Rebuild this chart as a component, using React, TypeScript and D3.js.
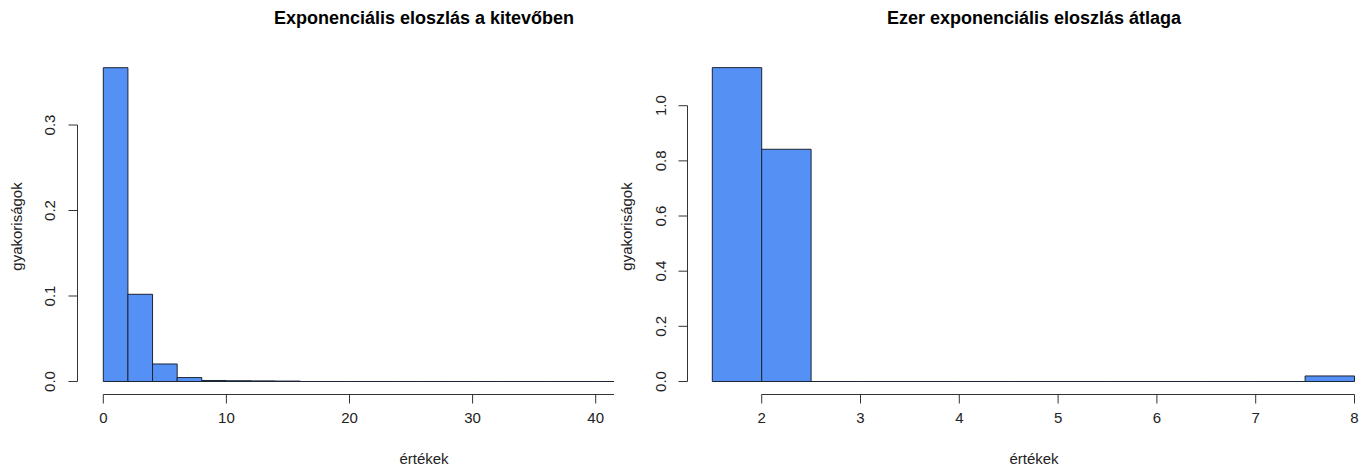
import React from "react";
import * as d3 from "d3";

// ---- Data ----
const leftTitle = "Exponenciális eloszlás a kitevőben";
const rightTitle = "Ezer exponenciális eloszlás átlaga";
const xLabel = "értékek";
const yLabel = "gyakoriságok";

// left histogram: breaks (width 2) and densities
const leftBreaks = [0, 2, 4, 6, 8, 10, 12, 14, 16, 18, 20, 22, 24, 26, 28, 30, 32, 34, 36, 38, 40, 42, 44, 46, 48, 50, 52];
const leftDensity = [0.367, 0.102, 0.0205, 0.0046, 0.0012, 0.0009, 0.0007, 0.0005, 0, 0, 0, 0, 0, 0, 0, 0, 0, 0, 0, 0, 0, 0, 0, 0, 0, 0.0001];
const leftXTicks = [0, 10, 20, 30, 40, 50];
const leftYTicks = [0, 0.1, 0.2, 0.3];

// right histogram: breaks (width 0.5) and densities
const rightBreaks = [1.5, 2, 2.5, 3, 3.5, 4, 4.5, 5, 5.5, 6, 6.5, 7, 7.5, 8];
const rightDensity = [1.138, 0.842, 0, 0, 0, 0, 0, 0, 0, 0, 0, 0, 0.02];
const rightXTicks = [2, 3, 4, 5, 6, 7, 8];
const rightYTicks = [0, 0.2, 0.4, 0.6, 0.8, 1.0];

const FONT = "'Liberation Sans', Arial, Helvetica, sans-serif";
const BAR_FILL = "#5591F5";
const BAR_STROKE = "#1c2433";
const AXIS = "#333";

type PanelProps = {
  breaks: number[];
  density: number[];
  xTicks: number[];
  yTicks: number[];
  xScale: d3.ScaleLinear<number, number>;
  yScale: d3.ScaleLinear<number, number>;
  yAxisX: number;
  xAxisY: number;
  titleX: number;
  ylabX: number;
  yTickLabX: number;
  title: string;
  clipId: string;
  clipX0: number;
  clipX1: number;
  fmtY: (v: number) => string;
};

function Panel(p: PanelProps) {
  const bins = p.density.map((d, i) => ({ x0: p.breaks[i], x1: p.breaks[i + 1], d }));
  const y0 = p.yScale(0);
  const tick = 9;
  const xt0 = p.xTicks[0];
  const xt1 = p.xTicks[p.xTicks.length - 1];
  const yt0 = p.yTicks[0];
  const yt1 = p.yTicks[p.yTicks.length - 1];
  return (
    <g>
      <defs>
        <clipPath id={p.clipId}>
          <rect x={p.clipX0} y={0} width={p.clipX1 - p.clipX0} height={466} />
        </clipPath>
      </defs>
      <g clipPath={`url(#${p.clipId})`}>
        {bins.map((b, i) => {
          const xa = p.xScale(b.x0);
          const xb = p.xScale(b.x1);
          const yt = p.yScale(b.d);
          return (
            <path
              key={i}
              d={`M${xa},${y0}V${yt}H${xb}V${y0}Z`}
              fill={BAR_FILL}
              stroke={BAR_STROKE}
              strokeWidth={1}
            />
          );
        })}
        {/* x axis */}
        <line x1={p.xScale(xt0)} x2={p.xScale(xt1)} y1={p.xAxisY} y2={p.xAxisY} stroke={AXIS} strokeWidth={1} />
        {p.xTicks.map((t) => (
          <g key={t}>
            <line x1={p.xScale(t)} x2={p.xScale(t)} y1={p.xAxisY} y2={p.xAxisY + tick} stroke={AXIS} strokeWidth={1} />
            <text x={p.xScale(t)} y={p.xAxisY + 28} textAnchor="middle" fontSize={15} fontFamily={FONT} fill="#222">
              {t}
            </text>
          </g>
        ))}
      </g>
      {/* y axis */}
      <line x1={p.yAxisX} x2={p.yAxisX} y1={p.yScale(yt0)} y2={p.yScale(yt1)} stroke={AXIS} strokeWidth={1} />
      {p.yTicks.map((t) => (
        <g key={t}>
          <line x1={p.yAxisX - tick} x2={p.yAxisX} y1={p.yScale(t)} y2={p.yScale(t)} stroke={AXIS} strokeWidth={1} />
          <text
            transform={`translate(${p.yTickLabX},${p.yScale(t)}) rotate(-90)`}
            textAnchor="middle"
            dy="0.35em"
            fontSize={15}
            fontFamily={FONT}
            fill="#222"
          >
            {p.fmtY(t)}
          </text>
        </g>
      ))}
      {/* title */}
      <text x={p.titleX} y={24} textAnchor="middle" fontSize={18} fontWeight="bold" fontFamily={FONT} fill="#000">
        {p.title}
      </text>
      {/* x label */}
      <text x={p.titleX} y={464} textAnchor="middle" fontSize={15} fontFamily={FONT} fill="#222">
        {xLabel}
      </text>
      {/* y label */}
      <text
        transform={`translate(${p.ylabX},${y0 - 155}) rotate(-90)`}
        textAnchor="middle"
        dy="0.35em"
        fontSize={15}
        fontFamily={FONT}
        fill="#222"
      >
        {yLabel}
      </text>
    </g>
  );
}

export default function App() {
  const leftX = d3.scaleLinear().domain([0, 40]).range([103.3, 595.7]);
  const leftY = d3.scaleLinear().domain([0, 0.3]).range([381.5, 125]);
  const rightX = d3.scaleLinear().domain([2, 8]).range([761.7, 1354.5]);
  const rightY = d3.scaleLinear().domain([0, 1.0]).range([381.5, 105.7]);
  const fmt = d3.format(".1f");
  return (
    <div style={{ position: "absolute", left: 0, top: 0 }}>
      <svg width={1368} height={466} style={{ display: "block", background: "#fff" }}>
        <Panel
          breaks={leftBreaks}
          density={leftDensity}
          xTicks={leftXTicks}
          yTicks={leftYTicks}
          xScale={leftX}
          yScale={leftY}
          yAxisX={77.5}
          xAxisY={394.5}
          titleX={424}
          ylabX={17}
          yTickLabX={50}
          title={leftTitle}
          clipId="clipL"
          clipX0={0}
          clipX1={614}
          fmtY={fmt}
        />
        <Panel
          breaks={rightBreaks}
          density={rightDensity}
          xTicks={rightXTicks}
          yTicks={rightYTicks}
          xScale={rightX}
          yScale={rightY}
          yAxisX={687.5}
          xAxisY={394.5}
          titleX={1034}
          ylabX={627}
          yTickLabX={661}
          title={rightTitle}
          clipId="clipR"
          clipX0={614}
          clipX1={1368}
          fmtY={fmt}
        />
      </svg>
    </div>
  );
}
